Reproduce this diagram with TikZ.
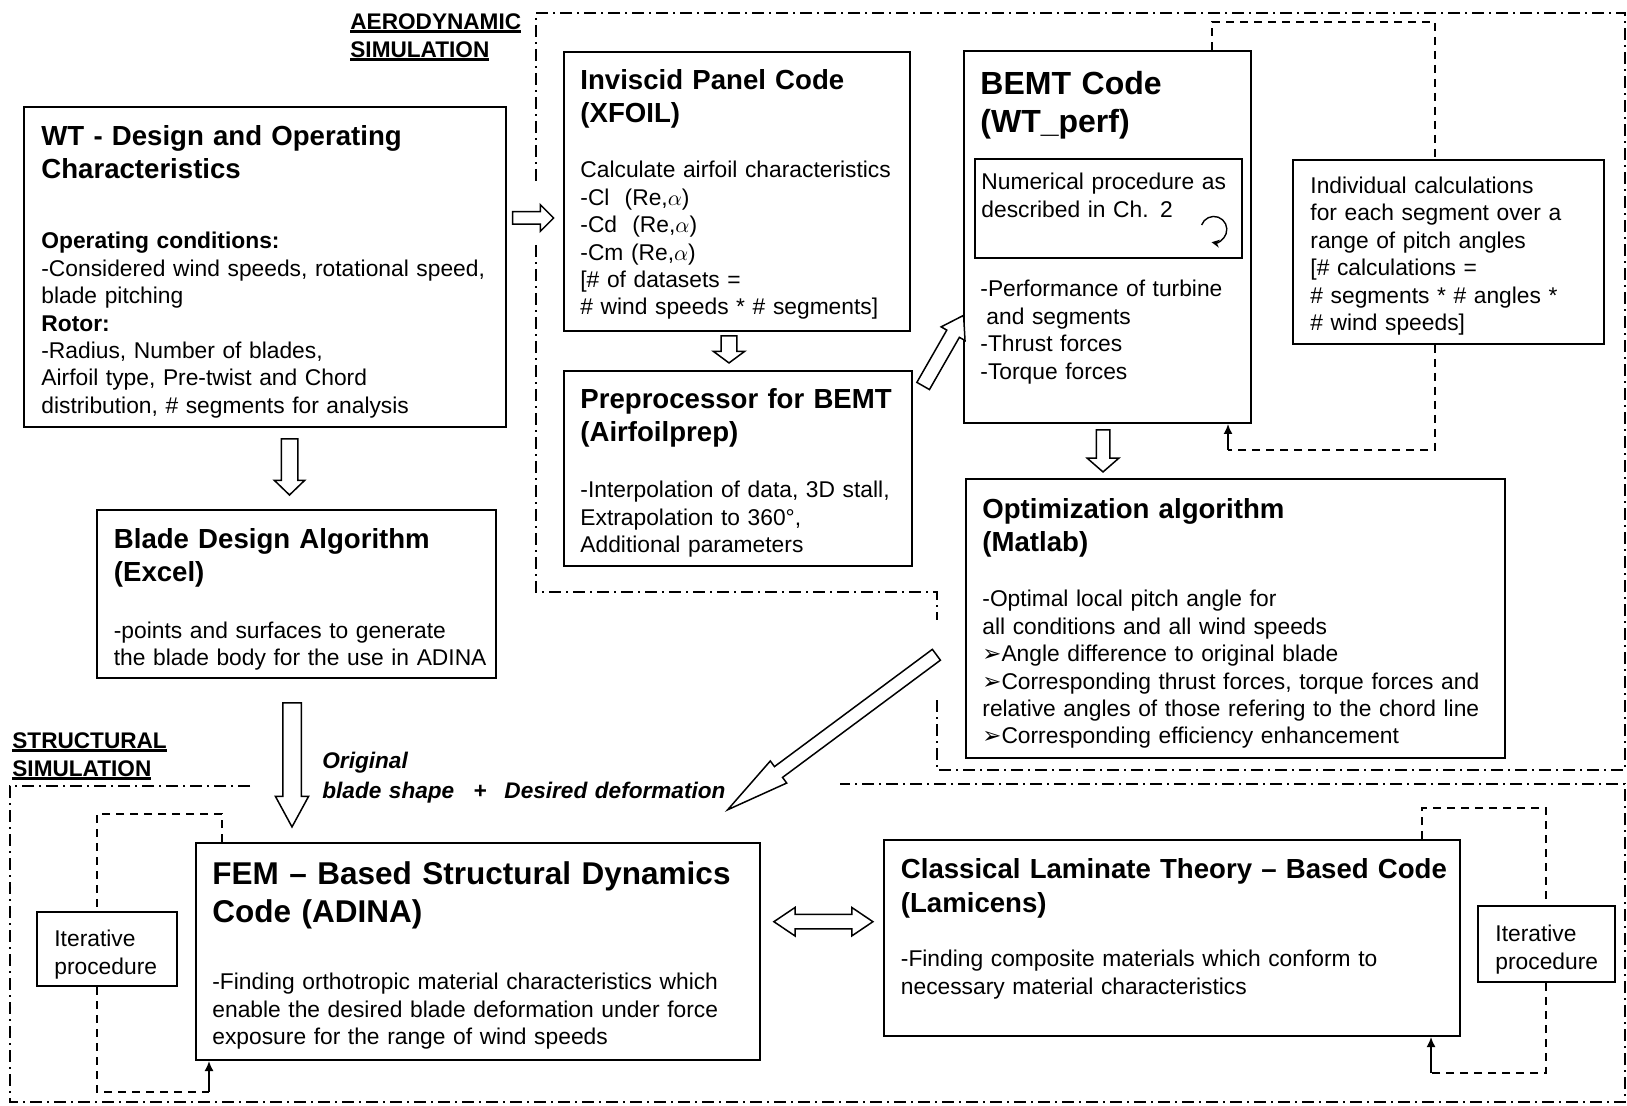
\documentclass[tikz,border=0pt]{standalone}
\usepackage{fontspec}
\setmainfont{Liberation Sans}
\newfontfamily\symfont[Scale=1.0]{DejaVu Sans}
\usepackage{tikz}
\usetikzlibrary{shapes.arrows,arrows.meta,positioning,calc}

\newcommand{\txtfont}{\fontsize{11.4}{13.7}\selectfont}
\newcommand{\hdfont}{\bfseries\fontsize{13.8}{16.8}\selectfont}
\newcommand{\bighdfont}{\bfseries\fontsize{16}{19}\selectfont}
\newcommand{\lblfont}{\bfseries\fontsize{11.3}{14}\selectfont}
\newcommand{\itlblfont}{\bfseries\itshape\fontsize{11.3}{15}\selectfont}
\newcommand{\arrbul}{{\symfont ➢}}
\newcommand{\ulab}[1]{\leavevmode\setbox0\hbox{#1}\rlap{\vrule height -0.6pt depth 1.8pt width \wd0}\box0}

\begin{document}
\begin{tikzpicture}[x=0.5pt, y=0.5pt,
    box/.style={draw, line width=1pt, anchor=north west, inner sep=0pt},
    txt/.style={anchor=north west, inner sep=0pt, align=left, text width=300pt, font=\txtfont},
    hd/.style={txt, font=\hdfont},
    bighd/.style={txt, font=\bighdfont},
    blk/.style={draw, line width=0.75pt, fill=white, inner xsep=0pt},
    sarrow/.style={blk, single arrow},
    darrow/.style={blk, double arrow},
    zone/.style={line width=0.6pt, dash pattern=on 6pt off 2.5pt on 1pt off 2.5pt},
    loopline/.style={line width=0.8pt, dash pattern=on 4pt off 3pt},
    backarr/.style={line width=0.8pt, -{Latex[length=5pt,width=4.5pt]}}]
\useasboundingbox (0,0) rectangle (1627,-1106);

% simulation zones
\draw[zone] (937,-700) -- (937,-770) -- (1625,-770) -- (1625,-13) -- (536,-13) -- (536,-185);
\draw[zone] (536,-245) -- (536,-592) -- (937,-592) -- (937,-620);
\draw[zone] (250,-786) -- (10,-786) -- (10,-1102) -- (1625,-1102) -- (1625,-784) -- (840,-784);

\node[txt, font=\lblfont] (aerolbl) at (350,-13) {\ulab{AERODYNAMIC}\\\ulab{SIMULATION}};
\node[txt, font=\lblfont] (structlbl) at (12,-732) {\ulab{STRUCTURAL}\\\ulab{SIMULATION}};

% boxes
\node[box, minimum width=241pt, minimum height=160pt] (wt) at (23,-106) {};
\node[hd] (wt-h) at ([shift={(18,-19)}]wt.north west) {WT - Design and Operating\\Characteristics};
\node[txt] (wt-b) at ([shift={(18,-126)}]wt.north west) {{\bfseries Operating conditions:}\\-Considered wind speeds, rotational speed,\\blade pitching\\{\bfseries Rotor:}\\-Radius, Number of blades,\\Airfoil type, Pre-twist and Chord\\distribution, \# segments for analysis};

\node[box, minimum width=173pt, minimum height=139.5pt] (xfoil) at (563,-51) {};
\node[hd] (xfoil-h) at ([shift={(17,-18)}]xfoil.north west) {Inviscid Panel Code\\(XFOIL)};
\node[txt] (xfoil-b) at ([shift={(17,-110)}]xfoil.north west) {Calculate airfoil characteristics\\-Cl\ \ (Re,$\alpha$)\\-Cd\ \ (Re,$\alpha$)\\-Cm (Re,$\alpha$)\\{[}\# of datasets =\\\# wind speeds * \# segments]};

\node[box, minimum width=174pt, minimum height=97.5pt] (prep) at (563,-370) {};
\node[hd] (prep-h) at ([shift={(17,-17.7)}]prep.north west) {Preprocessor for BEMT\\(Airfoilprep)};
\node[txt] (prep-b) at ([shift={(17,-111)}]prep.north west) {-Interpolation of data, 3D stall,\\Extrapolation to 360°,\\Additional parameters};

\node[box, minimum width=143.5pt, minimum height=186pt] (bemt) at (963,-50) {};
\node[bighd] (bemt-h) at ([shift={(17,-21)}]bemt.north west) {BEMT Code\\(WT\_perf)};
\node[box, line width=0.8pt, minimum width=133.5pt, minimum height=49.5pt] (numproc) at (974,-158) {};
\node[txt] (numproc-t) at ([shift={(7,-15)}]numproc.north west) {Numerical procedure as\\described in Ch. 2};
\node[txt] (bemt-b) at ([shift={(17,-230)}]bemt.north west) {-Performance of turbine\\\hspace{3pt}and segments\\-Thrust forces\\-Torque forces};

\node[box, minimum width=155.5pt, minimum height=92pt] (ind) at (1292,-159) {};
\node[txt] (ind-t) at ([shift={(18,-17.5)}]ind.north west) {Individual calculations\\for each segment over a\\range of pitch angles\\{[}\# calculations =\\\# segments * \# angles *\\\# wind speeds]};

\node[box, minimum width=269.5pt, minimum height=139.5pt] (opt) at (965,-478) {};
\node[hd] (opt-h) at ([shift={(17,-20)}]opt.north west) {Optimization algorithm\\(Matlab)};
\node[txt, text width=320pt] (opt-b) at ([shift={(17,-112)}]opt.north west) {-Optimal local pitch angle for\\all conditions and all wind speeds\\\arrbul Angle difference to original blade\\\arrbul Corresponding thrust forces, torque forces and\\relative angles of those refering to the chord line\\\arrbul Corresponding efficiency enhancement};

\node[box, minimum width=199.5pt, minimum height=84pt] (blade) at (96,-509) {};
\node[hd] (blade-h) at ([shift={(17.5,-19)}]blade.north west) {Blade Design Algorithm\\(Excel)};
\node[txt] (blade-b) at ([shift={(17.5,-112.5)}]blade.north west) {-points and surfaces to generate\\the blade body for the use in ADINA};

\node[box, minimum width=282pt, minimum height=108.5pt] (fem) at (195,-842) {};
\node[bighd, font=\bfseries\fontsize{15.75}{19}\selectfont] (fem-h) at ([shift={(17,-19.5)}]fem.north west) {FEM -- Based Structural Dynamics\\Code (ADINA)};
\node[txt] (fem-b) at ([shift={(17,-131)}]fem.north west) {-Finding orthotropic material characteristics which\\enable the desired blade deformation under force\\exposure for the range of wind speeds};

\node[box, minimum width=288pt, minimum height=98pt] (lam) at (883,-839) {};
\node[hd] (lam-h) at ([shift={(17.5,-19)}]lam.north west) {Classical Laminate Theory -- Based Code\\(Lamicens)};
\node[txt] (lam-b) at ([shift={(17.5,-111)}]lam.north west) {-Finding composite materials which conform to\\necessary material characteristics};

\node[box, minimum width=70pt, minimum height=37pt] (iterL) at (36,-911) {};
\node[txt] (iterL-t) at ([shift={(18,-19)}]iterL.north west) {Iterative\\procedure};
\node[box, minimum width=68.5pt, minimum height=38pt] (iterR) at (1477,-905) {};
\node[txt] (iterR-t) at ([shift={(18,-20)}]iterR.north west) {Iterative\\procedure};

\node[txt, font=\itlblfont] (shapelbl) at (322,-752) {Original\\blade shape\hspace{9.5pt}+\hspace{9pt}Desired deformation};

% block arrows
\node[sarrow, inner ysep=2.75pt, minimum height=20.5pt, minimum width=12.5pt, single arrow head extend=3.5pt, single arrow tip angle=90] (wt2xf) at (530,-218) {};
\node[sarrow, rotate=-90, inner ysep=3.6pt, minimum height=13.5pt, minimum width=15pt, single arrow head extend=3.9pt, single arrow tip angle=107] (xf2pp) at (729,-346.5) {};
\node[sarrow, rotate=60.2, inner ysep=3.25pt, minimum height=40.7pt, minimum width=13pt, single arrow head extend=3.25pt, single arrow tip angle=66] (pp2bm) at (940.6,-355.5) {};
\node[sarrow, rotate=-90, inner ysep=3pt, minimum height=21pt, minimum width=15pt, single arrow head extend=4.5pt, single arrow tip angle=98] (bm2op) at (1103,-448) {};
\node[sarrow, rotate=-90, inner ysep=3.75pt, minimum height=28pt, minimum width=14.5pt, single arrow head extend=3.5pt, single arrow tip angle=92] (wt2bd) at (289.5,-463) {};
\node[sarrow, rotate=-90, inner ysep=4.25pt, minimum height=62pt, minimum width=15.8pt, single arrow head extend=3.65pt, single arrow tip angle=57] (bd2fe) at (292,-756.4) {};
\node[sarrow, rotate=216.6, inner ysep=3pt, minimum height=130pt, minimum width=13pt, single arrow head extend=3.5pt, single arrow tip angle=24.5] (op2fe) at (844.5,-723) {};
\node[darrow, inner ysep=3.25pt, minimum height=49.5pt, minimum width=13.5pt, double arrow head extend=3.5pt, double arrow tip angle=68] (fe2lm) at (823.4,-921.7) {};

% iteration loops
\coordinate (bemtLoopL) at (1212,-22);
\coordinate (bemtLoopR) at (1435,-22);
\coordinate (bemtLoopB) at (1435,-450);
\coordinate (bemtRet) at (1228,-450);
\draw[loopline] (bemtLoopL |- bemt.north) -- (bemtLoopL) -- (bemtLoopR) -- (bemtLoopR |- ind.north);
\draw[loopline] (bemtLoopR |- ind.south) -- (bemtLoopB) -- (bemtRet);
\draw[backarr] (bemtRet) -- (bemtRet |- bemt.south);

\coordinate (femLoopR) at (222,-814);
\coordinate (femLoopL) at (97,-814);
\coordinate (femLoopB) at (97,-1092);
\coordinate (femRet) at (209,-1092);
\draw[loopline] (femLoopR |- fem.north) -- (femLoopR) -- (femLoopL) -- (femLoopL |- iterL.north);
\draw[loopline] (femLoopL |- iterL.south) -- (femLoopB) -- (femRet);
\draw[backarr] (femRet) -- (femRet |- fem.south);

\coordinate (lamLoopL) at (1422,-808);
\coordinate (lamLoopR) at (1546,-808);
\coordinate (lamLoopB) at (1546,-1073);
\coordinate (lamRet) at (1431,-1073);
\draw[loopline] (lamLoopL |- lam.north) -- (lamLoopL) -- (lamLoopR) -- (lamLoopR |- iterR.north);
\draw[loopline] (lamLoopR |- iterR.south) -- (lamLoopB) -- (lamRet);
\draw[backarr] (lamRet) -- (lamRet |- lam.south);

% iteration symbol
\draw[line width=0.7pt, -{Stealth[length=4pt,width=4pt]}] ([shift={(-41,-67)}]numproc.north east) arc[start angle=160, end angle=-100, radius=6.5pt];
\end{tikzpicture}
\end{document}
